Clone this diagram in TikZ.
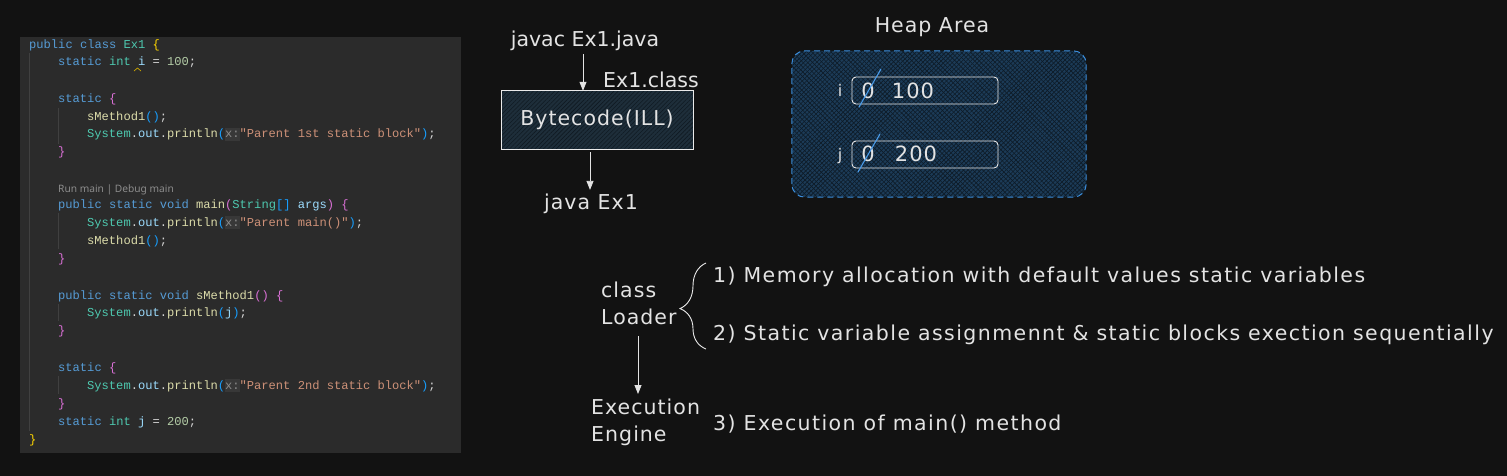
\documentclass[tikz,border=0pt]{standalone}
\usepackage{fontspec}
\usetikzlibrary{arrows.meta,decorations.pathreplacing,patterns.meta}
\newfontfamily\codefont{Liberation Mono}
\newfontfamily\handfont[LetterSpace=7]{DejaVu Sans}
\newfontfamily\handmid[LetterSpace=5]{DejaVu Sans}
\newfontfamily\labfont{DejaVu Sans}
\newfontfamily\uifont{Noto Sans}
\definecolor{bgc}{HTML}{121212}
\definecolor{panel}{HTML}{2B2B2B}
\definecolor{guide}{HTML}{404040}
\definecolor{ckwc}{HTML}{569CD6}
\definecolor{ctyc}{HTML}{4EC9B0}
\definecolor{cvarc}{HTML}{9CDCFE}
\definecolor{cnumc}{HTML}{B5CEA8}
\definecolor{cstrc}{HTML}{CE9178}
\definecolor{cfnc}{HTML}{DCDCAA}
\definecolor{cplc}{HTML}{D4D4D4}
\definecolor{brone}{HTML}{FFD700}
\definecolor{brtwo}{HTML}{DA70D6}
\definecolor{brthree}{HTML}{179FFF}
\definecolor{hintc}{HTML}{8C8C8C}
\definecolor{hintbg}{HTML}{383838}
\definecolor{ink}{HTML}{E3E3E3}
\definecolor{bytefill}{HTML}{1E2E3A}
\definecolor{bytehatch}{HTML}{101A22}
\definecolor{heapfill}{HTML}{1C3B57}
\definecolor{heaphatch}{HTML}{0E1B27}
\definecolor{dashblue}{HTML}{3B8DDB}
\definecolor{slashc}{HTML}{4A9BE8}
\definecolor{warnc}{HTML}{CCA700}
\newcommand\ckw[1]{\textcolor{ckwc}{#1}}
\newcommand\cty[1]{\textcolor{ctyc}{#1}}
\newcommand\cvar[1]{\textcolor{cvarc}{#1}}
\newcommand\cnum[1]{\textcolor{cnumc}{#1}}
\newcommand\cstr[1]{\textcolor{cstrc}{#1}}
\newcommand\cfn[1]{\textcolor{cfnc}{#1}}
\newcommand\bra[1]{\textcolor{brone}{#1}}
\newcommand\brb[1]{\textcolor{brtwo}{#1}}
\newcommand\brc[1]{\textcolor{brthree}{#1}}
\newcommand\chint{{\setlength{\fboxsep}{0pt}\colorbox{hintbg}{\rule[-3pt]{0pt}{13pt}\textcolor{hintc}{x:}}}}
\newcommand\sysout{\cty{System}.\cvar{out}.\cfn{println}}
\begin{document}
\begin{tikzpicture}[x=1pt,y=-1pt,
  code/.style={anchor=base west, inner sep=0pt, font=\codefont\fontsize{12.1}{14}\selectfont, text=cplc},
  hand/.style={inner sep=0pt, font=\handmid\fontsize{20.5}{27}\selectfont, text=ink},
  sentence/.style={hand, anchor=west, font=\handfont\fontsize{20.5}{27}\selectfont},
  tight hand/.style={hand, font=\labfont\fontsize{20.5}{27}\selectfont},
  small hand/.style={hand, font=\handmid\fontsize{21}{26}\selectfont},
  arr/.style={draw=ink, line width=0.8pt, -{Triangle[length=9pt,width=7pt]}},
  guideline/.style={draw=guide, line width=0.8pt},
  cell/.style={draw=ink!85, line width=0.9pt, rounded corners=4pt, minimum width=146pt, minimum height=27pt, inner sep=0pt},
  slash/.style={draw=slashc, line width=1.1pt, line cap=round}]
\useasboundingbox (0,0) rectangle (1507,476);
\fill[bgc] (0,0) rectangle (1507,476);
% code panel
\fill[panel] (20,37) rectangle (461,453);
\draw[guideline] (29,53) -- (29,431);
\draw[guideline] (58,108) -- (58,144);
\draw[guideline] (58,213) -- (58,249);
\draw[guideline] (58,304) -- (58,321);
\draw[guideline] (58,376) -- (58,394);
\node[code] (c1) at (29,49) {\ckw{public} \ckw{class} \cty{Ex1} \bra{\{}};
\node[code] (c2) at (58,66) {\ckw{static} \cty{int} \cvar{i} = \cnum{100};};
\draw[warnc, line width=0.7pt] (134,71) -- (137.5,68) -- (141,71);
\node[code] (c3) at (58,103) {\ckw{static} \brb{\{}};
\node[code] (c4) at (87,121) {\cfn{sMethod1}\brc{()};};
\node[code] (c5) at (87,138) {\sysout\brc{(}\chint\cstr{"Parent 1st static block"}\brc{)};};
\node[code] (c6) at (58,156) {\brb{\}}};
\node[anchor=base west, inner sep=0pt, font=\uifont\fontsize{10.2}{12}\selectfont, text=hintc] (c7) at (58,192) {Run main | Debug main};
\node[code] (c8) at (58,208) {\ckw{public} \ckw{static} \ckw{void} \cfn{main}\brb{(}\cty{String}\brc{[]} \cvar{args}\brb{)} \brb{\{}};
\node[code] (c9) at (87,226) {\sysout\brc{(}\chint\cstr{"Parent main()"}\brc{)};};
\node[code] (c10) at (87,244) {\cfn{sMethod1}\brc{()};};
\node[code] (c11) at (58,262) {\brb{\}}};
\node[code] (c12) at (58,299) {\ckw{public} \ckw{static} \ckw{void} \cfn{sMethod1}\brb{()} \brb{\{}};
\node[code] (c13) at (87,316) {\sysout\brc{(}\cvar{j}\brc{)};};
\node[code] (c14) at (58,334) {\brb{\}}};
\node[code] (c15) at (58,371) {\ckw{static} \brb{\{}};
\node[code] (c16) at (87,389) {\sysout\brc{(}\chint\cstr{"Parent 2nd static block"}\brc{)};};
\node[code] (c17) at (58,407) {\brb{\}}};
\node[code] (c18) at (58,425) {\ckw{static} \cty{int} \cvar{j} = \cnum{200};};
\node[code] (c19) at (29,443) {\bra{\}}};
% compile flow
\node[tight hand] (javac) at (585,41) {javac Ex1.java};
\node[tight hand, anchor=west] (exclass) at (603,80) {Ex1.class};
\node[fill=bytefill, minimum width=191pt, minimum height=58pt, inner sep=0pt] (byte) at (597.5,120) {};
\fill[pattern={Lines[angle=45,distance=3pt,line width=0.6pt]}, pattern color=bytehatch] (byte.south west) rectangle (byte.north east);
\draw[ink!75, line width=0.8pt] (byte.south west) rectangle (byte.north east);
\node[hand] (bytetext) at (597,120) {Bytecode(ILL)};
\node[hand] (javaex) at (591,204) {java Ex1};
\coordinate (ax1) at (583,0);
\coordinate (ax2) at (590,0);
\draw[arr] (javac.south -| ax1) ++(0,3) -- (byte.north -| ax1);
\draw[arr] (byte.south -| ax2) ++(0,3) -- ([yshift=4pt]javaex.north -| ax2);
% heap
\node[hand] (heaplabel) at (932,27) {Heap Area};
\node[rounded corners=13pt, fill=heapfill, minimum width=294pt, minimum height=146pt, inner sep=0pt] (heap) at (939,124) {};
\fill[rounded corners=13pt, pattern={Lines[angle=45,distance=3pt,line width=0.6pt]}, pattern color=heaphatch] (heap.south west) rectangle (heap.north east);
\fill[rounded corners=13pt, pattern={Lines[angle=-45,distance=3.4pt,line width=0.6pt]}, pattern color=heaphatch] (heap.south west) rectangle (heap.north east);
\draw[dashblue, line width=1pt, dash pattern=on 6pt off 4pt, rounded corners=13pt] (heap.south west) rectangle (heap.north east);
\node[cell] (celli) at (925,90.5) {};
\node[cell] (cellj) at (925,154.5) {};
\node[inner sep=0pt, text=ink, font=\labfont\fontsize{16}{20}\selectfont] (li) at (840,90) {i};
\node[inner sep=0pt, text=ink, font=\labfont\fontsize{16}{20}\selectfont] (lj) at (840,156) {j};
\node[small hand] (zi) at (868,91) {0};
\node[small hand] (zj) at (868,154) {0};
\node[small hand] (vi) at (913,91) {100};
\node[small hand] (vj) at (916,154) {200};
\coordinate (si1) at (859,107);
\coordinate (si2) at (881,69);
\coordinate (sj1) at (858,172);
\coordinate (sj2) at (880,134);
\draw[slash] (si1) -- (si2);
\draw[slash] (sj1) -- (sj2);
% class loader
\node[hand, align=left, anchor=north west] (loader) at (601,282) {class\\Loader};
\node[hand, align=left, anchor=north west] (engine) at (591,399) {Execution\\Engine};
\coordinate (bb) at (706,349);
\coordinate (bt) at (706,263);
\draw[ink!75, line width=0.9pt, decorate, decoration={brace, amplitude=26pt, aspect=0.47}] (bb) -- (bt);
\coordinate (ax3) at (638,0);
\draw[arr] (loader.south -| ax3) ++(0,11) -- ([yshift=5pt]engine.north -| ax3);
\node[sentence] (s1) at (713,277) {1) Memory allocation with default values static variables};
\node[sentence] (s2) at (713,335) {2) Static variable assignmennt \& static blocks exection sequentially};
\node[sentence] (s3) at (713,424) {3) Execution of main() method};
\end{tikzpicture}
\end{document}
